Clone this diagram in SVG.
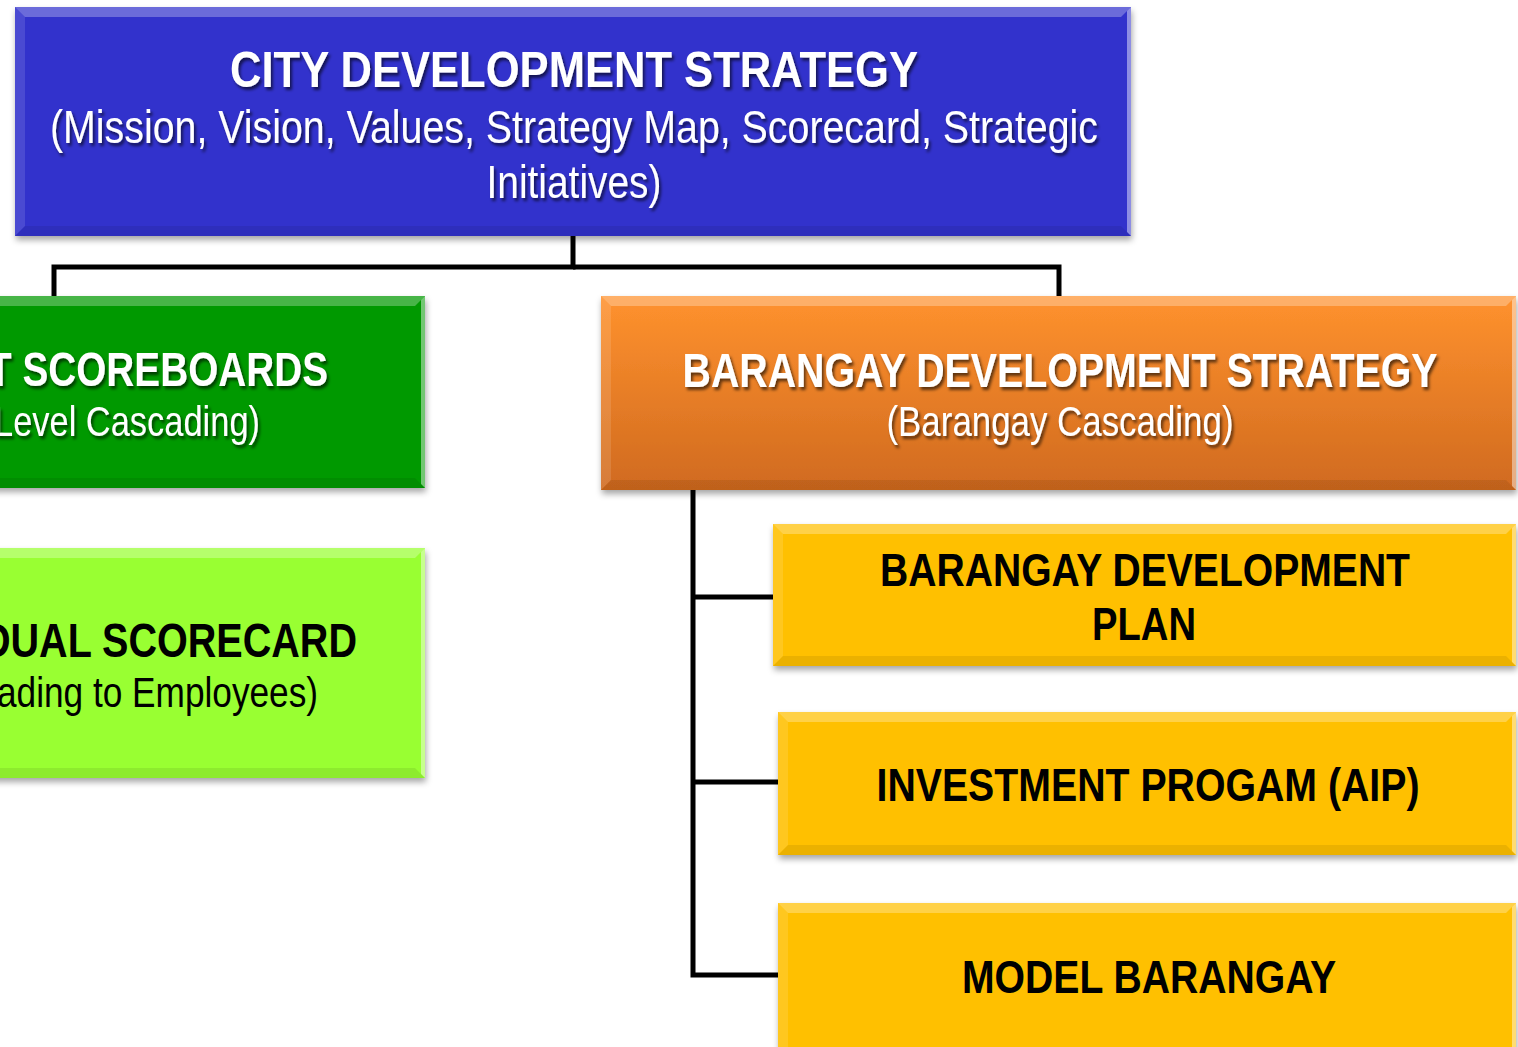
<svg xmlns="http://www.w3.org/2000/svg" width="1518" height="1047" viewBox="0 0 1518 1047">
<defs>
<filter id="sh" x="-5%" y="-10%" width="110%" height="125%">
<feDropShadow dx="1" dy="4" stdDeviation="3" flood-color="#000" flood-opacity="0.35"/>
</filter>
<filter id="ts" x="-5%" y="-20%" width="110%" height="150%">
<feDropShadow dx="2" dy="3" stdDeviation="1.5" flood-color="#000" flood-opacity="0.6"/>
</filter>
<linearGradient id="og" x1="0" y1="0" x2="0" y2="1">
<stop offset="0" stop-color="#FF922E"/>
<stop offset="1" stop-color="#D06A1F"/>
</linearGradient>
</defs>
<style>
.wt{fill:#fff;font-family:"Liberation Sans Narrow","Liberation Sans",Arial,sans-serif;filter:url(#ts)}
.bk{fill:#000;font-family:"Liberation Sans Narrow","Liberation Sans",Arial,sans-serif}
.b{font-weight:bold}
.c{text-anchor:middle}
.e{text-anchor:end}
.hi{fill:#fff;opacity:0.28}
.lo{fill:#fff;opacity:0.12}
.rt{fill:#fff;opacity:0.45}
.dk{fill:#000;opacity:0.08}
.conn{fill:none;stroke:#000;stroke-width:5}
</style>

<g id="connectors">
<polyline class="conn" points="573,236 573,267 54,267 54,297"/>
<polyline class="conn" points="573,267 1059,267 1059,297"/>
<polyline class="conn" points="693,490 693,975 778,975"/>
<line class="conn" x1="693" y1="597" x2="774" y2="597"/>
<line class="conn" x1="693" y1="782" x2="779" y2="782"/>
</g>

<g id="city">
<rect x="15" y="7" width="1116" height="229" fill="#3333CC" filter="url(#sh)"/>
<polygon class="hi" points="15,7 1131,7 1121,17 25,17"/>
<polygon class="lo" points="15,7 25,17 25,226 15,236"/>
<polygon class="rt" points="1131,7 1131,236 1127,232 1127,11"/>
<polygon class="dk" points="15,236 1131,236 1121,226 25,226"/>
<text class="wt b c" x="574" y="87" font-size="50" textLength="688" lengthAdjust="spacingAndGlyphs">CITY DEVELOPMENT STRATEGY</text>
<text class="wt c" x="574" y="143" font-size="46" textLength="1048" lengthAdjust="spacingAndGlyphs">(Mission, Vision, Values, Strategy Map, Scorecard, Strategic</text>
<text class="wt c" x="574" y="198" font-size="46" textLength="175" lengthAdjust="spacingAndGlyphs">Initiatives)</text>
</g>

<g id="dept">
<rect x="-20" y="296" width="445" height="192" fill="#009900" filter="url(#sh)"/>
<polygon class="hi" points="-20,296 425,296 415,306 -10,306"/>
<polygon class="rt" points="425,296 425,488 421,484 421,300"/>
<polygon class="dk" points="-20,488 425,488 415,478 -10,478"/>
<text class="wt b e" x="328" y="386" font-size="48" textLength="340" lengthAdjust="spacingAndGlyphs">T SCOREBOARDS</text>
<text class="wt e" x="260" y="436" font-size="43" textLength="266" lengthAdjust="spacingAndGlyphs">Level Cascading)</text>
</g>

<g id="indiv">
<rect x="-20" y="548" width="445" height="230" fill="#99FF33" filter="url(#sh)"/>
<polygon class="hi" points="-20,548 425,548 415,558 -10,558"/>
<polygon class="rt" points="425,548 425,778 421,774 421,552"/>
<polygon class="dk" points="-20,778 425,778 415,768 -10,768"/>
<text class="bk b e" x="357" y="657" font-size="48" textLength="375" lengthAdjust="spacingAndGlyphs">DUAL SCORECARD</text>
<text class="bk e" x="318" y="707" font-size="43" textLength="321" lengthAdjust="spacingAndGlyphs">ading to Employees)</text>
</g>

<g id="brgy">
<rect x="601" y="296" width="915" height="194" fill="url(#og)" filter="url(#sh)"/>
<polygon class="hi" points="601,296 1516,296 1506,306 611,306"/>
<polygon class="lo" points="601,296 611,306 611,480 601,490"/>
<polygon class="rt" points="1516,296 1516,490 1512,486 1512,300"/>
<polygon class="dk" points="601,490 1516,490 1506,480 611,480"/>
<text class="wt b c" x="1060" y="387" font-size="48" textLength="755" lengthAdjust="spacingAndGlyphs">BARANGAY DEVELOPMENT STRATEGY</text>
<text class="wt c" x="1060" y="436" font-size="43" textLength="347" lengthAdjust="spacingAndGlyphs">(Barangay Cascading)</text>
</g>

<g id="bdp">
<rect x="773" y="524" width="743" height="142" fill="#FFC000" filter="url(#sh)"/>
<polygon class="hi" points="773,524 1516,524 1506,534 783,534"/>
<polygon class="lo" points="773,524 783,534 783,656 773,666"/>
<polygon class="rt" points="1516,524 1516,666 1512,662 1512,528"/>
<polygon class="dk" points="773,666 1516,666 1506,656 783,656"/>
<text class="bk b c" x="1145" y="586" font-size="46" textLength="530" lengthAdjust="spacingAndGlyphs">BARANGAY DEVELOPMENT</text>
<text class="bk b c" x="1144" y="640" font-size="46" textLength="104" lengthAdjust="spacingAndGlyphs">PLAN</text>
</g>

<g id="aip">
<rect x="778" y="712" width="738" height="143" fill="#FFC000" filter="url(#sh)"/>
<polygon class="hi" points="778,712 1516,712 1506,722 788,722"/>
<polygon class="lo" points="778,712 788,722 788,845 778,855"/>
<polygon class="rt" points="1516,712 1516,855 1512,851 1512,716"/>
<polygon class="dk" points="778,855 1516,855 1506,845 788,845"/>
<text class="bk b c" x="1148" y="801" font-size="47" textLength="543" lengthAdjust="spacingAndGlyphs">INVESTMENT PROGAM (AIP)</text>
</g>

<g id="model">
<rect x="778" y="903" width="738" height="160" fill="#FFC000" filter="url(#sh)"/>
<polygon class="hi" points="778,903 1516,903 1506,913 788,913"/>
<polygon class="lo" points="778,903 788,913 788,1063 778,1063"/>
<polygon class="rt" points="1516,903 1516,1063 1512,1063 1512,907"/>
<text class="bk b c" x="1149" y="993" font-size="47" textLength="374" lengthAdjust="spacingAndGlyphs">MODEL BARANGAY</text>
</g>
</svg>
